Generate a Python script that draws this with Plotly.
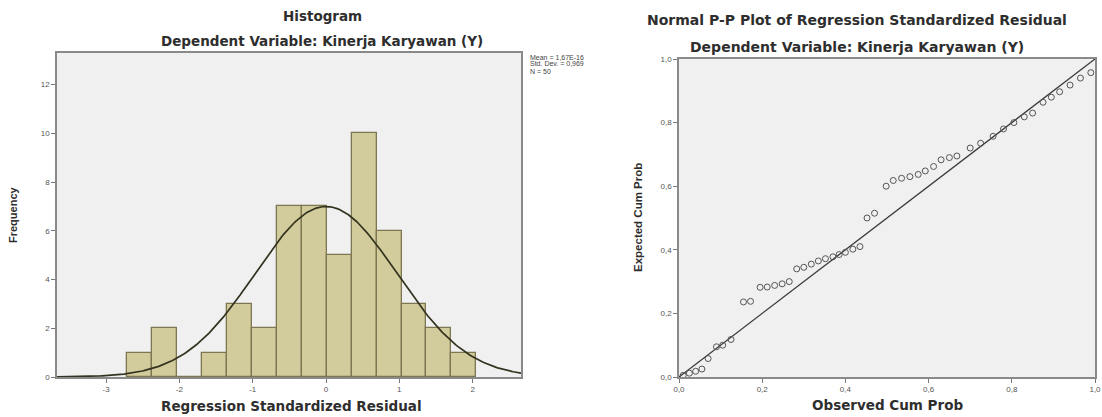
import numpy as np
import plotly.graph_objects as go

# ---------------- data ----------------
bin_left_edges = [-2.71, -2.37, -2.03, -1.69, -1.35, -1.01, -0.67, -0.33, 0.01, 0.35, 0.69, 1.03, 1.37, 1.71]
bin_width = 0.34
counts = [1, 2, 0, 1, 3, 2, 7, 7, 5, 10, 6, 3, 2, 1]
resid_mean = 0.0
resid_sd = 0.969
n_obs = 50
legend_lines = ["Mean = 1,67E-16", "Std. Dev. = 0,969", "N = 50"]

hist_xticks = [-3, -2, -1, 0, 1, 2]
hist_yticks = [0, 2, 4, 6, 8, 10, 12]

pp_ticks = [0.0, 0.2, 0.4, 0.6, 0.8, 1.0]
pp_ticklabels = ["0,0", "0,2", "0,4", "0,6", "0,8", "1,0"]

observed_cum = [0.010, 0.025, 0.040, 0.055, 0.070, 0.090, 0.105, 0.125, 0.155, 0.172,
                0.195, 0.212, 0.230, 0.248, 0.265, 0.283, 0.300, 0.318, 0.335, 0.352,
                0.370, 0.385, 0.400, 0.418, 0.435, 0.452, 0.470, 0.498, 0.515, 0.535,
                0.555, 0.575, 0.592, 0.612, 0.630, 0.650, 0.668, 0.700, 0.725, 0.755,
                0.780, 0.805, 0.830, 0.850, 0.875, 0.895, 0.915, 0.940, 0.965, 0.990]
expected_cum = [0.005, 0.012, 0.018, 0.025, 0.058, 0.095, 0.100, 0.118, 0.236, 0.238,
                0.282, 0.283, 0.288, 0.293, 0.300, 0.340, 0.345, 0.355, 0.365, 0.372,
                0.378, 0.385, 0.392, 0.402, 0.410, 0.500, 0.515, 0.600, 0.618, 0.625,
                0.630, 0.637, 0.648, 0.662, 0.683, 0.690, 0.695, 0.720, 0.735, 0.757,
                0.780, 0.800, 0.818, 0.830, 0.864, 0.880, 0.897, 0.918, 0.940, 0.957]

# ---------------- figure ----------------
W, H = 1102, 417
FONT = "Liberation Sans, Arial, sans-serif"
WIDE = "DejaVu Sans, Verdana, sans-serif"
FRAME = "#8a8a8a"
PLOTBG = "#f0f0f0"

def px_x(p):
    return p / W

def px_y(p):
    return 1 - p / H

fig = go.Figure()

centers = [e + bin_width / 2 for e in bin_left_edges]
fig.add_trace(go.Bar(
    x=centers, y=counts, width=bin_width,
    marker=dict(color="#d2cc9c", line=dict(color="#7d7650", width=1.3)),
    xaxis="x", yaxis="y", showlegend=False,
))

xc = np.linspace(-3.67, 2.66, 300)
yc = n_obs * bin_width / (resid_sd * np.sqrt(2 * np.pi)) * np.exp(-0.5 * ((xc - resid_mean) / resid_sd) ** 2)
fig.add_trace(go.Scatter(
    x=xc, y=yc, mode="lines", line=dict(color="#33331f", width=1.7),
    xaxis="x", yaxis="y", showlegend=False,
))

fig.add_trace(go.Scatter(
    x=[0, 1], y=[0, 1], mode="lines", line=dict(color="#3a3a3a", width=1.3),
    xaxis="x2", yaxis="y2", showlegend=False,
))
fig.add_trace(go.Scatter(
    x=observed_cum, y=expected_cum, mode="markers",
    marker=dict(symbol="circle-open", size=6, color="#555555", line=dict(width=1)),
    xaxis="x2", yaxis="y2", showlegend=False,
))

axis_common = dict(
    showgrid=False, zeroline=False, showline=True, linecolor=FRAME, linewidth=1.5,
    mirror=True, ticks="outside", ticklen=4, tickcolor="#777777", automargin=False,
    tickfont=dict(family=FONT, size=8, color="#555555"),
)

fig.update_layout(
    width=W, height=H,
    margin=dict(l=0, r=0, t=0, b=0, autoexpand=False),
    paper_bgcolor="white",
    plot_bgcolor=PLOTBG,
    bargap=0,
    xaxis=dict(domain=[px_x(57), px_x(521)], range=[-3.67, 2.66],
               tickvals=hist_xticks, ticktext=[str(t) for t in hist_xticks],
               anchor="y", **axis_common),
    yaxis=dict(domain=[px_y(377), px_y(53)], range=[0, 13.3],
               tickvals=hist_yticks, ticktext=[str(t) for t in hist_yticks],
               anchor="x", **axis_common),
    xaxis2=dict(domain=[px_x(679), px_x(1095)], range=[0, 1],
                tickvals=pp_ticks, ticktext=pp_ticklabels, anchor="y2", **axis_common),
    yaxis2=dict(domain=[px_y(377), px_y(59)], range=[0, 1],
                tickvals=pp_ticks, ticktext=pp_ticklabels, anchor="x2", **axis_common),
)

def label(text, x, y, size=12, bold=True, angle=0, xanchor="center", color="#2e2e2e", family=WIDE):
    fig.add_annotation(
        text=("<b>%s</b>" % text) if bold else text,
        x=px_x(x), y=px_y(y), xref="paper", yref="paper",
        xanchor=xanchor, yanchor="middle", showarrow=False, textangle=angle,
        font=dict(family=family, size=size, color=color),
    )

label("Histogram", 322, 16, size=13.5)
label("Dependent Variable: Kinerja Karyawan (Y)", 322, 41, size=13.5)
label("Regression Standardized Residual", 291, 406, size=13.5)
label("Frequency", 13, 215, size=11, angle=-90, family=FONT)

label("Normal P-P Plot of Regression Standardized Residual", 857, 20, size=14)
label("Dependent Variable: Kinerja Karyawan (Y)", 857, 47, size=14)
label("Observed Cum Prob", 887, 405, size=13.5)
label("Expected Cum Prob", 638, 218, size=11.5, angle=-90, family=FONT)

for i, line in enumerate(legend_lines):
    label(line, 528, 57 + i * 7, size=7, bold=False, xanchor="left", color="#444444", family=FONT)

fig.write_html(
    "out.html",
    config={"displayModeBar": False},
    post_script="document.body.style.margin='0px';document.body.style.overflow='hidden';",
)
